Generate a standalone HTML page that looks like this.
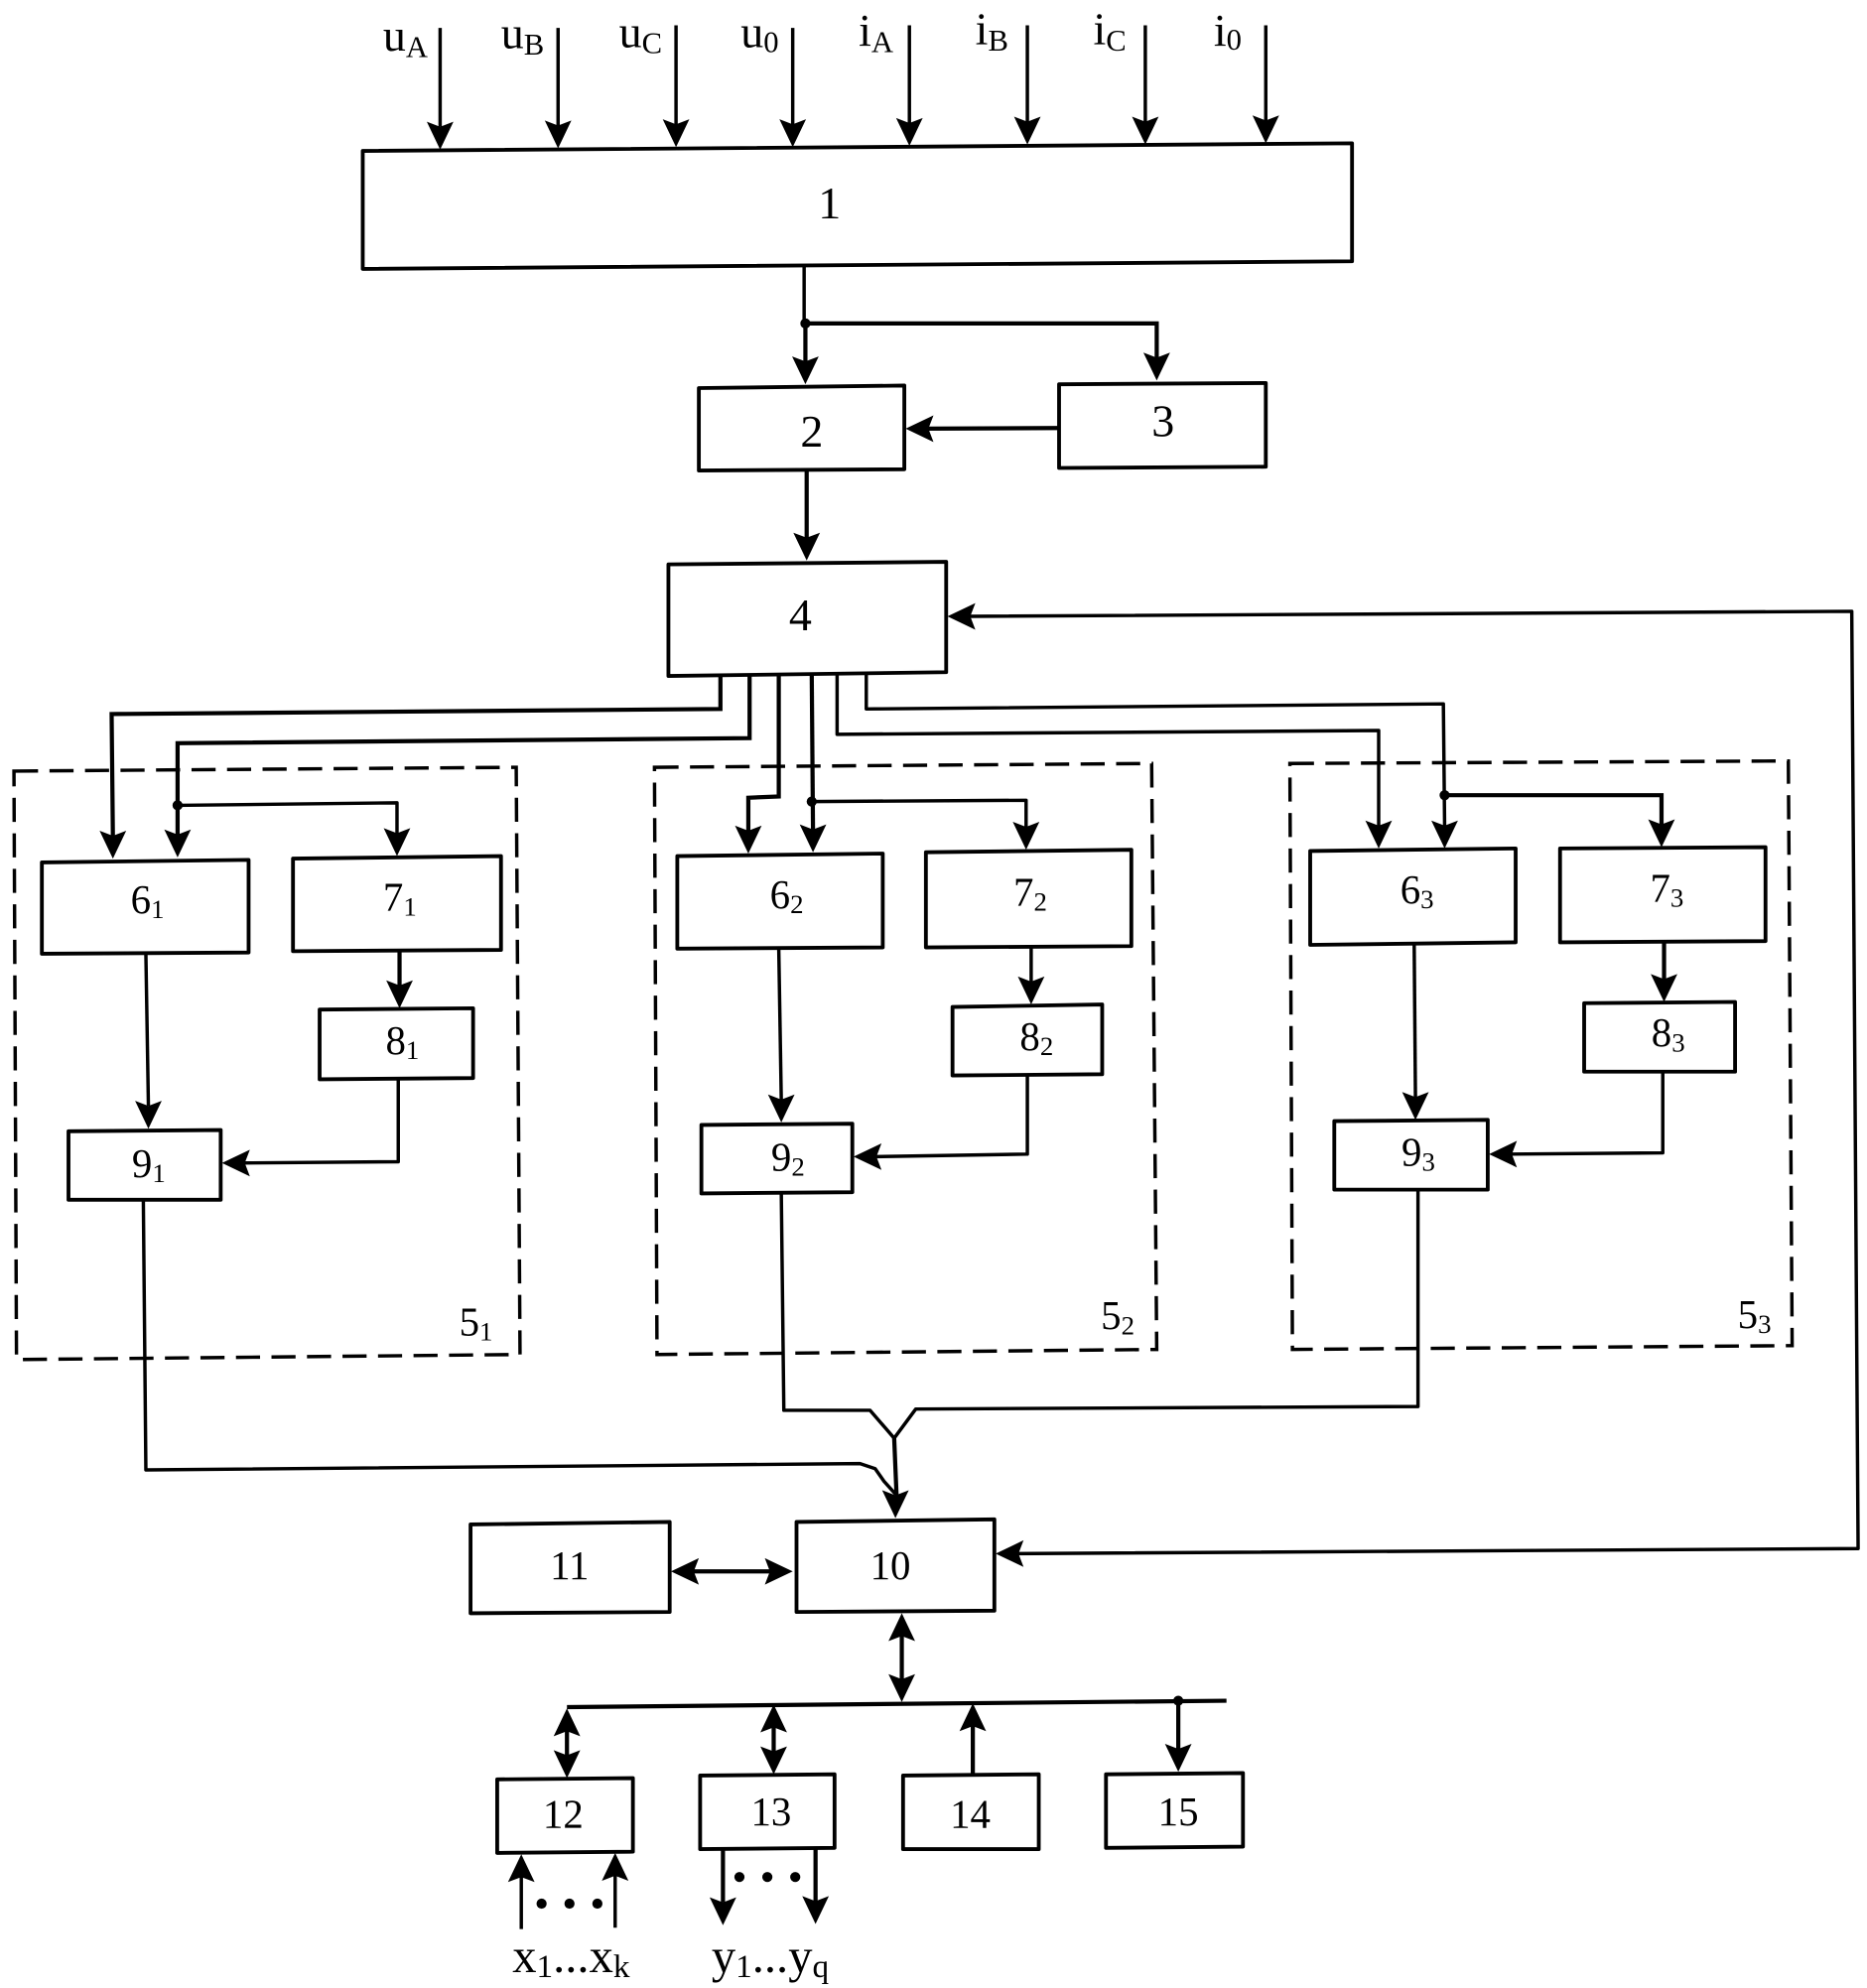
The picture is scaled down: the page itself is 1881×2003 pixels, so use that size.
<!DOCTYPE html>
<html><head><meta charset="utf-8"><style>
html,body{margin:0;padding:0;background:#fff}
svg{display:block}
.l{fill:none;stroke:#000;stroke-width:2.7;stroke-linejoin:round}
.t{fill:none;stroke:#000;stroke-width:3.3}
.b{fill:#fff;stroke:#000;stroke-width:3;stroke-linejoin:round}
.g{fill:none;stroke:#000;stroke-width:2.7;stroke-dasharray:19 9}
text{font-family:"Liberation Serif",serif;fill:#000;font-size:32px}
.s{font-size:21px}
.big{font-size:36px}
.top{font-size:36px}
.top tspan{font-size:24px}
.bot{font-size:38px}
.bot tspan{font-size:26px}
.bot tspan.dots{font-size:38px}
.c{text-anchor:middle}
</style></head><body>
<svg xmlns="http://www.w3.org/2000/svg" width="1881" height="2003" viewBox="0 0 1472 1567.5">
<defs><path id="d" d="M0 0L-10.500 -22L0 -18L10.500 -22Z" fill="#000"/></defs>
<rect width="1472" height="1568" fill="#fff"/>

<!-- dashed groups -->
<polygon class="g" points="11,608 407,605 410,1068 13,1072"/>
<polygon class="g" points="516,605 908,602 912,1064 518,1068"/>
<polygon class="g" points="1017,602 1410,600 1413,1061 1019,1064"/>

<!-- boxes -->
<polygon class="b" points="286,119 1066,113 1066,206 286,212"/>
<polygon class="b" points="551,306 713,304 713,370 551,371"/>
<polygon class="b" points="835,303 998,302 998,368 835,369"/>
<polygon class="b" points="527,445 746,443 746,530 527,533"/>
<polygon class="b" points="33,680 196,678 196,751 33,752"/>
<polygon class="b" points="231,677 395,675 395,749 231,750"/>
<polygon class="b" points="252,796 373,795 373,850 252,851"/>
<polygon class="b" points="54,892 174,891 174,946 54,946"/>
<polygon class="b" points="534,675 696,673 696,747 534,748"/>
<polygon class="b" points="730,672 892,670 892,746 730,747"/>
<polygon class="b" points="751,794 869,792 869,847 751,848"/>
<polygon class="b" points="553,887 672,886 672,940 553,941"/>
<polygon class="b" points="1033,671 1195,669 1195,743 1033,745"/>
<polygon class="b" points="1230,669 1392,668 1392,742 1230,743"/>
<polygon class="b" points="1249,791 1368,790 1368,845 1249,845"/>
<polygon class="b" points="1052,884 1173,883 1173,938 1052,938"/>
<polygon class="b" points="628,1200 784,1198 784,1270 628,1271"/>
<polygon class="b" points="371,1202 528,1200 528,1271 371,1272"/>
<polygon class="b" points="392,1403 499,1402 499,1460 392,1461"/>
<polygon class="b" points="552,1400 658,1399 658,1457 552,1458"/>
<polygon class="b" points="712,1400 819,1399 819,1458 712,1458"/>
<polygon class="b" points="872,1399 980,1398 980,1456 872,1457"/>

<!-- inputs -->
<path class="l" d="M347 22V100M440 22V100M533 20V100M625 22V100M717 20V100M810 20V100M903 20V100M998 20V100"/>
<use href="#d" transform="translate(347 118)"/><use href="#d" transform="translate(440 117)"/>
<use href="#d" transform="translate(533 116)"/><use href="#d" transform="translate(625 116)"/>
<use href="#d" transform="translate(717 115)"/><use href="#d" transform="translate(810 114)"/>
<use href="#d" transform="translate(903 114)"/><use href="#d" transform="translate(998 113)"/>

<!-- 1 to 2,3 -->
<path class="l" d="M634 210V256"/>
<path class="t" d="M635 255V290M635 255H912V285"/>
<circle cx="635" cy="255" r="4"/>
<use href="#d" transform="translate(635 303)"/><use href="#d" transform="translate(912 300)"/>
<path class="t" d="M835 337.500L730 338"/><use href="#d" transform="translate(714 338) rotate(90)"/>
<path class="t" d="M636 371V425"/><use href="#d" transform="translate(636 442)"/>

<!-- feedback -->
<polyline class="l" points="762,486 1460,482 1465,1221 800,1225"/>
<use href="#d" transform="translate(747 486) rotate(90)"/>
<use href="#d" transform="translate(785 1225) rotate(90)"/>

<!-- outputs of 4 -->
<polyline class="t" points="568,532 568,559 88,563 89,660"/>
<use href="#d" transform="translate(89 677)"/>
<polyline class="t" points="591,532 591,582 140,586 140,660"/>
<use href="#d" transform="translate(140 676)"/>
<polyline class="l" points="140,635 313,633 313,660"/>
<circle cx="140" cy="635" r="4"/>
<use href="#d" transform="translate(313 675)"/>

<polyline class="t" points="614,532 614,628 590,629 590,655"/>
<use href="#d" transform="translate(590 673)"/>
<polyline class="t" points="640,532 641,655"/>
<use href="#d" transform="translate(641 672)"/>
<polyline class="l" points="640,632 809,631 809,655"/>
<circle cx="640" cy="632" r="4"/>
<use href="#d" transform="translate(809 670)"/>

<polyline class="l" points="660,532 660,579 1087,576 1087,652"/>
<use href="#d" transform="translate(1087 669)"/>
<polyline class="l" points="683,532 683,559 1138,555 1139,652"/>
<use href="#d" transform="translate(1139 669)"/>
<polyline class="t" points="1139,627 1310,627 1310,652"/>
<circle cx="1139" cy="627" r="4"/>
<use href="#d" transform="translate(1310 668)"/>

<!-- group 1 -->
<path class="l" d="M115 752L117 872"/><use href="#d" transform="translate(117 890)"/>
<path class="t" d="M315 750V780"/><use href="#d" transform="translate(315 795)"/>
<polyline class="l" points="314,851 314,916 190,917"/><use href="#d" transform="translate(175 917) rotate(90)"/>
<!-- group 2 -->
<path class="l" d="M614 748L616 868"/><use href="#d" transform="translate(616 885)"/>
<path class="l" d="M813 747V778"/><use href="#d" transform="translate(813 792)"/>
<polyline class="l" points="810,848 810,910 690,912"/><use href="#d" transform="translate(673 912) rotate(90)"/>
<!-- group 3 -->
<path class="l" d="M1115 745L1116 866"/><use href="#d" transform="translate(1116 883)"/>
<path class="t" d="M1312 743V775"/><use href="#d" transform="translate(1312 790)"/>
<polyline class="l" points="1311,845 1311,909 1190,910"/><use href="#d" transform="translate(1174 910) rotate(90)"/>

<!-- merge -->
<polyline class="l" points="113,946 115,1159 678,1154 690,1158 697,1168 706,1178"/>
<polyline class="l" points="616,941 618,1112 686,1112 705,1134 722,1111 1118,1109 1118,938"/>
<path class="t" d="M705 1134L707 1182"/>
<use href="#d" transform="translate(706 1197)"/>

<!-- lower -->
<path class="t" d="M545 1239H612"/>
<use href="#d" transform="translate(529 1239) rotate(90)"/>
<use href="#d" transform="translate(625 1239) rotate(-90)"/>
<path class="t" d="M711 1285V1328"/>
<use href="#d" transform="translate(711 1272) rotate(180)"/>
<use href="#d" transform="translate(711 1342)"/>
<path class="t" d="M447 1346L967 1341"/>
<path class="t" d="M447 1360V1388"/>
<use href="#d" transform="translate(447 1347) rotate(180)"/>
<use href="#d" transform="translate(447 1402)"/>
<path class="t" d="M610 1358V1385"/>
<use href="#d" transform="translate(610 1344) rotate(180)"/>
<use href="#d" transform="translate(610 1399)"/>
<path class="t" d="M767 1399V1358"/>
<use href="#d" transform="translate(767 1343) rotate(180)"/>
<path class="t" d="M929 1341V1382"/>
<circle cx="929" cy="1341" r="4"/>
<use href="#d" transform="translate(929 1397)"/>
<path class="l" d="M411 1521V1478M485 1520V1477"/>
<use href="#d" transform="translate(411 1462) rotate(180)"/>
<use href="#d" transform="translate(485 1461) rotate(180)"/>
<path class="t" d="M570 1458V1500M643 1458V1500"/>
<use href="#d" transform="translate(570 1518)"/>
<use href="#d" transform="translate(643 1517)"/>
<circle cx="427" cy="1501" r="4"/><circle cx="449" cy="1501" r="4"/><circle cx="471" cy="1501" r="4"/>
<circle cx="583" cy="1480" r="4"/><circle cx="605" cy="1480" r="4"/><circle cx="627" cy="1480" r="4"/>

<!-- labels -->
<text class="top" x="302" y="40">u<tspan dy="5">A</tspan></text>
<text class="top" x="395" y="38">u<tspan dy="5">B</tspan></text>
<text class="top" x="488" y="37">u<tspan dy="5">C</tspan></text>
<text class="top" x="584" y="37">u<tspan dy="4">0</tspan></text>
<text class="top" x="677" y="36">i<tspan dy="5">A</tspan></text>
<text class="top" x="769" y="35">i<tspan dy="5">B</tspan></text>
<text class="top" x="862" y="35">i<tspan dy="5">C</tspan></text>
<text class="top" x="957" y="36">i<tspan dy="3">0</tspan></text>

<text class="big c" x="654" y="172">1</text>
<text class="big c" x="640" y="352">2</text>
<text class="big c" x="917" y="344">3</text>
<text class="big c" x="631" y="497">4</text>

<text x="103" y="720">6<tspan class="s" dy="4">1</tspan></text>
<text x="302" y="718">7<tspan class="s" dy="4">1</tspan></text>
<text x="304" y="831">8<tspan class="s" dy="4">1</tspan></text>
<text x="104" y="928">9<tspan class="s" dy="4">1</tspan></text>
<text x="362" y="1053">5<tspan class="s" dy="4">1</tspan></text>
<text x="607" y="716">6<tspan class="s" dy="4">2</tspan></text>
<text x="799" y="714">7<tspan class="s" dy="4">2</tspan></text>
<text x="804" y="828">8<tspan class="s" dy="4">2</tspan></text>
<text x="608" y="923">9<tspan class="s" dy="4">2</tspan></text>
<text x="868" y="1048">5<tspan class="s" dy="4">2</tspan></text>
<text x="1104" y="712">6<tspan class="s" dy="4">3</tspan></text>
<text x="1301" y="711">7<tspan class="s" dy="4">3</tspan></text>
<text x="1302" y="825">8<tspan class="s" dy="4">3</tspan></text>
<text x="1105" y="919">9<tspan class="s" dy="4">3</tspan></text>
<text x="1370" y="1047">5<tspan class="s" dy="4">3</tspan></text>

<text class="c" x="702" y="1245">10</text>
<text class="c" x="449" y="1245">11</text>
<text class="c" x="444" y="1441">12</text>
<text class="c" x="608" y="1439">13</text>
<text class="c" x="765" y="1441">14</text>
<text class="c" x="929" y="1439">15</text>

<text class="bot" x="404" y="1555">x<tspan dy="4">1</tspan><tspan class="dots" dy="-4">...</tspan>x<tspan dy="4">k</tspan></text>
<text class="bot" x="561" y="1555">y<tspan dy="4">1</tspan><tspan class="dots" dy="-4">...</tspan>y<tspan dy="4">q</tspan></text>
</svg>
</body></html>
